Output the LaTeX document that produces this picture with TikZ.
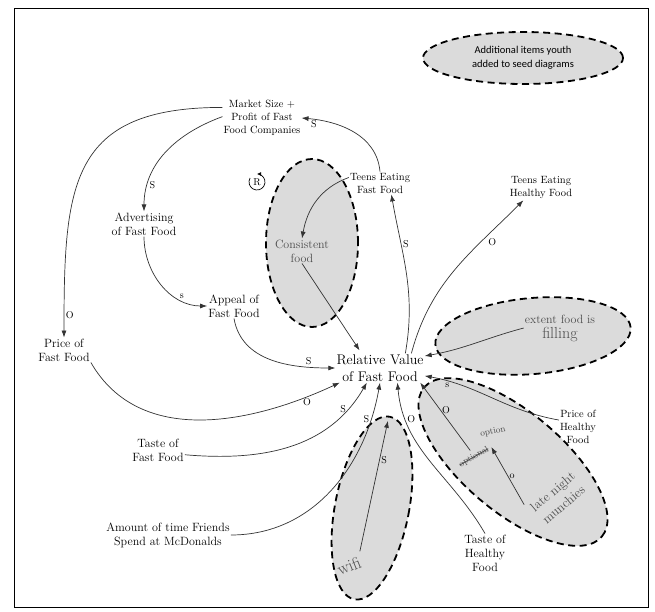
\documentclass[tikz,border=0pt]{standalone}
\usepackage{fontspec}
\newfontfamily\legendfont{Carlito}
\usetikzlibrary{shapes.geometric,arrows.meta}

\begin{document}
\begin{tikzpicture}[x=1pt,y=1pt,
  var/.style={align=center,font=\fontsize{12}{14}\selectfont,inner sep=1pt},
  small/.style={align=center,font=\fontsize{10.5}{13}\selectfont,inner sep=1pt},
  added/.style={ellipse,draw=black,line width=1.8pt,dash pattern=on 7pt off 4.5pt,fill=black!14},
  pencil/.style={text=black!70},
  link/.style={-{Latex[length=7pt,width=5pt]},draw=black!80,line width=0.7pt},
  pol/.style={font=\fontsize{10}{12}\selectfont,inner sep=1.5pt}]
\useasboundingbox (0,0) rectangle (655,-612);
\draw [line width=0.6pt] (14,-8) rectangle (648,-607);

\node [added,align=center,inner sep=0pt,minimum width=200,minimum height=52,
  font=\legendfont\fontsize{10.5}{14}\selectfont] (legend) at (523,-58) {Additional items youth\\added to seed diagrams};
\node [added,minimum width=92,minimum height=168] (consistentbg) at (312,-243) {};
\node [added,rotate=5,minimum width=196,minimum height=76] (fillingbg) at (533,-336) {};
\node [added,rotate=-11,minimum width=74,minimum height=186] (wifibg) at (372,-508) {};
\node [added,rotate=-40,minimum width=232,minimum height=100] (latebg) at (513,-462) {};

\node [var,pencil] (consistent) at (302,-251) {Consistent\\food};
\node [var,pencil] (filling) at (560,-328) {extent food is\\[1pt]{\fontsize{16}{18}\selectfont filling}};
\node [pencil,rotate=22,font=\fontsize{17}{20}\selectfont] (wifi) at (349,-566) {wifi};
\node [pencil,rotate=40,align=center,font=\fontsize{13}{17}\selectfont] (latenight) at (558,-498) {late night\\munchies};
\node [pencil,rotate=12,font=\fontsize{9}{11}\selectfont] (option) at (493,-432) {option};
\node [pencil,rotate=30,font=\fontsize{9}{11}\selectfont] (optional) at (474,-457)
  {\setbox0\hbox{optional}\rlap{\copy0}\rule[0.5ex]{\wd0}{0.9pt}};

\node [small] (market) at (262,-118) {Market Size +\\Profit of Fast\\Food Companies};
\node [var] (advert) at (144,-224) {Advertising\\of Fast Food};
\node [var] (appeal) at (234,-306) {Appeal of\\Fast Food};
\node [var] (pricefast) at (64,-350) {Price of\\Fast Food};
\node [small] (teensfast) at (380,-183) {Teens Eating\\Fast Food};
\node [small] (teenshealthy) at (541,-188) {Teens Eating\\Healthy Food};
\node [var,font=\fontsize{14}{17}\selectfont] (rv) at (380,-368) {Relative Value\\of Fast Food};
\node [var] (tastefast) at (158,-450) {Taste of\\Fast Food};
\node [var] (amount) at (168,-535) {Amount of time Friends\\Spend at McDonalds};
\node [var] (tastehealthy) at (485,-553) {Taste of\\Healthy\\Food};
\node [small] (pricehealthy) at (578,-427) {Price of\\Healthy\\Food};
\node [pol] (loopR) at (257,-182) {R};
\draw [-{Latex[length=4pt,width=4pt]},line width=0.7pt] ([shift={(150:8)}]loopR.center) arc [start angle=150,end angle=450,radius=8];

\draw [link] (market.178) to [out=200,in=90] node [pol,pos=0.8,right] {S} (advert.north);
\draw [link] (market.165) to [out=180,in=90,looseness=1.4] node [pol,pos=0.95,right] {O} (pricefast.north);
\draw [link] (teensfast.north) to [out=95,in=-5] node [pol,pos=0.93,below right] {S} (market.east);
\draw [link] (teensfast.170) to [out=200,in=80] (consistent.north);
\draw [link] (consistent.south) -- ([shift={(-3,3)}]rv.140);
\draw [link] (advert.south) to [out=-90,in=180] node [pol,pos=0.75,above] {s} (appeal.west);
\draw [link] (appeal.south) to [out=-80,in=180] node [pol,pos=0.8,above] {S} (rv.west);
\draw [link] (pricefast.south east) to [out=-60,in=205] node [pol,pos=0.88,below] {O} (rv.200);
\draw [link] (tastefast.-10) to [out=-5,in=240] node [pol,pos=0.85,left] {S} (rv.228);
\draw [link] (amount.east) to [out=0,in=260] node [pol,pos=0.85,left] {S} (rv.south);
\draw [link] (wifi.north east) -- node [pol,pos=0.7,right] {S} ([shift={(-2,-5)}]wifibg.north);
\draw [link] (tastehealthy.north) to [out=120,in=-85] node [pol,pos=0.8,right] {O} (rv.-40);
\draw [link] (rv.30) to [out=80,in=-80] node [pol,pos=0.7,right] {S} (teensfast.-45);
\draw [link] (rv.25) to [out=75,in=225] node [pol,pos=0.75,below right] {O} (teenshealthy.-145);
\draw [link] (pricehealthy.160) to [out=170,in=-10] node [pol,pos=0.85,below] {s} (rv.-10);
\draw [link] (filling.west) to [out=195,in=10] (rv.15);
\draw [link] (latenight.north west) -- node [pol,pos=0.5,right] {o} (optional.east);
\draw [link] (optional.north) -- node [pol,pos=0.6,right] {O} (rv.-20);
\end{tikzpicture}
\end{document}
